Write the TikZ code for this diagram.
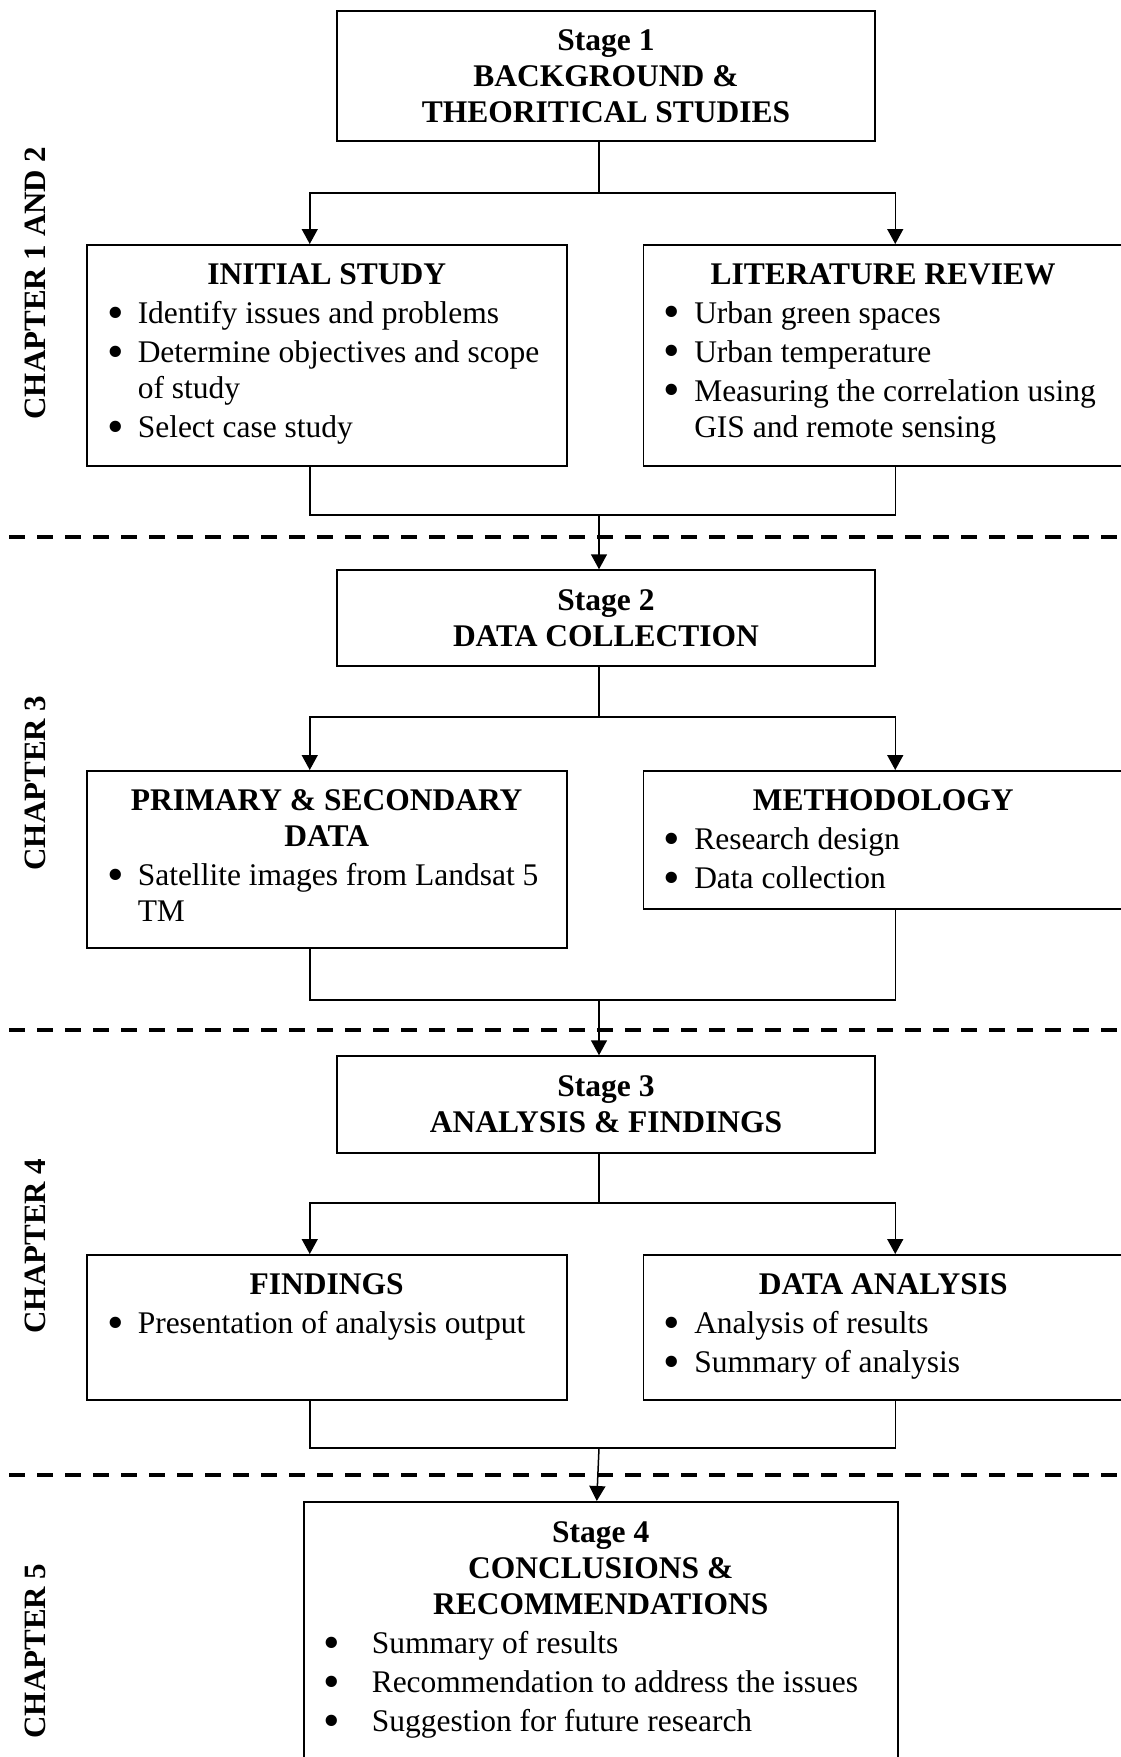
\documentclass[tikz,border=0pt]{standalone}
\usepackage{fontspec}
\setmainfont{Liberation Serif}
\usepackage{enumitem}
\usetikzlibrary{positioning, calc, arrows.meta}

\newcommand{\diagfont}{\fontsize{31.5}{36}\selectfont}
\newcommand{\bigdot}{\raisebox{-0.14em}{\scalebox{1.5}{\textbullet}}}
\setlist[itemize]{label=\bigdot, nosep, leftmargin=51pt, labelsep=14pt, itemsep=3pt, topsep=3pt}

\tikzset{
    stagebox/.style={draw, line width=1.5pt, align=center, inner sep=0pt,
        minimum width=538pt, font=\diagfont\bfseries},
    panel/.style={draw, line width=1.5pt, inner sep=0pt, anchor=north west, font=\diagfont},
    link/.style={line width=1.5pt},
    arr/.style={line width=1.5pt, -{Triangle[width=16pt,length=15pt]}},
    chapline/.style={line width=4pt, dash pattern=on 16pt off 12pt},
    chaplabel/.style={rotate=90, font=\fontsize{31}{31}\selectfont\bfseries},
}

\begin{document}
\begin{tikzpicture}[x=1pt, y=-1pt]
    \useasboundingbox (0,0) rectangle (1121,1757);

    % stage 1
    \node[stagebox, minimum height=130pt] (s1) at (606,76) {Stage 1\\BACKGROUND \&\\THEORITICAL STUDIES};
    \node[panel] (init) at (86,244) {\parbox[t][221pt][t]{480pt}{\vspace*{19pt}\centering
        \textbf{INITIAL STUDY}\par\raggedright
        \begin{itemize}
            \item Identify issues and problems
            \item Determine objectives and scope\newline of study
            \item Select case study
        \end{itemize}}};
    \node[panel, right=75pt of init.north east, anchor=north west] (lit) {\parbox[t][221pt][t]{480pt}{\vspace*{19pt}\centering
        \textbf{LITERATURE REVIEW}\par\raggedright
        \begin{itemize}
            \item Urban green spaces
            \item Urban temperature
            \item Measuring the correlation using\newline GIS and remote sensing
        \end{itemize}}};

    % stage 2
    \node[stagebox, minimum height=96pt] (s2) at (606,618) {Stage 2\\DATA COLLECTION};
    \node[panel] (prim) at (86,770) {\parbox[t][177pt][t]{480pt}{\vspace*{19pt}\centering
        \textbf{PRIMARY \& SECONDARY\\DATA}\par\raggedright
        \begin{itemize}
            \item Satellite images from Landsat 5\newline TM
        \end{itemize}}};
    \node[panel, right=75pt of prim.north east, anchor=north west] (meth) {\parbox[t][138pt][t]{480pt}{\vspace*{19pt}\centering
        \textbf{METHODOLOGY}\par\raggedright
        \begin{itemize}
            \item Research design
            \item Data collection
        \end{itemize}}};

    % stage 3
    \node[stagebox, minimum height=97pt] (s3) at (606,1104.5) {Stage 3\\ANALYSIS \& FINDINGS};
    \node[panel] (find) at (86,1254) {\parbox[t][145pt][t]{480pt}{\vspace*{19pt}\centering
        \textbf{FINDINGS}\par\raggedright
        \begin{itemize}
            \item Presentation of analysis output
        \end{itemize}}};
    \node[panel, right=75pt of find.north east, anchor=north west] (dana) {\parbox[t][145pt][t]{480pt}{\vspace*{19pt}\centering
        \textbf{DATA ANALYSIS}\par\raggedright
        \begin{itemize}
            \item Analysis of results
            \item Summary of analysis
        \end{itemize}}};

    % stage 4
    \node[panel] (s4) at (303,1501) {\parbox[t][300pt][t]{594pt}{\vspace*{20pt}\centering
        \textbf{Stage 4\\CONCLUSIONS \&\\RECOMMENDATIONS}\par\raggedright
        \begin{itemize}[leftmargin=68pt, labelsep=32pt]
            \item Summary of results
            \item Recommendation to address the issues
            \item Suggestion for future research
        \end{itemize}}};

    % chapter marks
    \draw[chapline] (9,537) -- (1121,537);
    \draw[chapline] (9,1030) -- (1121,1030);
    \draw[chapline] (9,1475) -- (1121,1475);
    \node[chaplabel] (ch12) at (35,283) {CHAPTER 1 AND 2};
    \node[chaplabel] (ch3) at (35,783) {CHAPTER 3};
    \node[chaplabel] (ch4) at (35,1246) {CHAPTER 4};
    \node[chaplabel] (ch5) at (35,1651) {CHAPTER 5};

    % connectors
    \draw[link] ([xshift=-7pt]s1.south) -- ++(0,51) coordinate (fork1);
    \draw[arr] (fork1) -| ([xshift=-17pt]init.north);
    \draw[arr] (fork1) -| ([xshift=12pt]lit.north);
    \coordinate (join1) at (599,515);
    \draw[link] ([xshift=-17pt]init.south) |- (join1) -| ([xshift=12pt]lit.south);
    \draw[arr] (join1) -- ([xshift=-7pt]s2.north);

    \draw[link] ([xshift=-7pt]s2.south) -- ++(0,50) coordinate (fork2);
    \draw[arr] (fork2) -| ([xshift=-17pt]prim.north);
    \draw[arr] (fork2) -| ([xshift=12pt]meth.north);
    \coordinate (join2) at (599,1000);
    \draw[link] ([xshift=-17pt]prim.south) |- (join2) -| ([xshift=12pt]meth.south);
    \draw[arr] (join2) -- ([xshift=-7pt]s3.north);

    \draw[link] ([xshift=-7pt]s3.south) -- ++(0,49) coordinate (fork3);
    \draw[arr] (fork3) -| ([xshift=-17pt]find.north);
    \draw[arr] (fork3) -| ([xshift=12pt]dana.north);
    \coordinate (join3) at (599,1448);
    \draw[link] ([xshift=-17pt]find.south) |- (join3) -| ([xshift=12pt]dana.south);
    \draw[arr] (join3) -- ([xshift=-4pt]s4.north);
\end{tikzpicture}
\end{document}
